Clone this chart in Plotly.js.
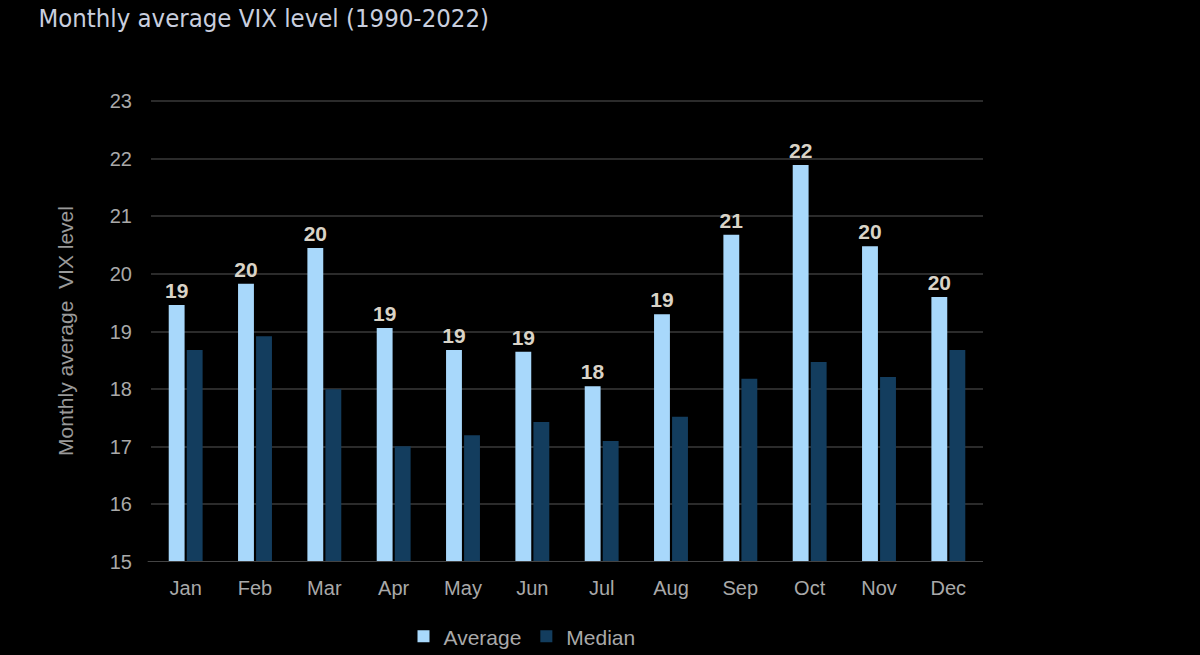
<!DOCTYPE html>
<html>
<head>
<meta charset="utf-8">
<script src="https://cdn.plot.ly/plotly-3.0.1.min.js"></script>
<style>
  html, body { margin: 0; padding: 0; background: #000; }
  #chart { width: 1200px; height: 655px; }
</style>
</head>
<body>
<div id="chart"></div>
<script>
const months = ["Jan", "Feb", "Mar", "Apr", "May", "Jun", "Jul", "Aug", "Sep", "Oct", "Nov", "Dec"];
const averageVix = [19.46, 19.83, 20.45, 19.06, 18.68, 18.65, 18.05, 19.3, 20.68, 21.89, 20.48, 19.6];
const medianVix = [18.68, 18.92, 18.0, 17.01, 17.2, 17.43, 17.1, 17.52, 18.18, 18.47, 18.21, 18.68];
const yTicks = [15, 16, 17, 18, 19, 20, 21, 22, 23];

const axisFont = { family: "Liberation Sans, Arial, sans-serif", size: 20, color: "#a9a9a9" };

const data = [
  {
    type: "bar",
    name: "Average",
    x: months,
    y: averageVix,
    marker: { color: "#a8d8fb" },
    text: averageVix.map((v) => Math.round(v).toString()),
    textposition: "outside",
    constraintext: "none",
    cliponaxis: false,
    textfont: { family: "Liberation Sans, Arial, sans-serif", size: 21, color: "#d9d3c7", weight: "bold" },
  },
  {
    type: "bar",
    name: "Median",
    x: months,
    y: medianVix,
    marker: { color: "#133d5e" },
  },
];

const layout = {
  width: 1200,
  height: 655,
  paper_bgcolor: "#000",
  plot_bgcolor: "#000",
  margin: { l: 151, r: 217, t: 100, b: 93, autoexpand: false },
  barmode: "group",
  bargap: 0.48,
  bargroupgap: 0.12,
  title: {
    text: "Monthly average VIX level (1990-2022)",
    x: 0.032,
    xanchor: "left",
    y: 0.972,
    yanchor: "middle",
    font: { family: "DejaVu Sans Condensed, Roboto, sans-serif", size: 25.5, color: "#c9cede" },
  },
  xaxis: {
    tickfont: axisFont,
    showgrid: false,
    showline: false,
    ticks: "outside",
    ticklen: 8,
    tickcolor: "#000",
    zeroline: false,
  },
  yaxis: {
    range: [15, 23.02],
    tickvals: yTicks,
    ticktext: yTicks.map(String),
    tickfont: axisFont,
    gridcolor: "#2b2b2b",
    gridwidth: 2,
    zeroline: false,
    showline: false,
    ticks: "outside",
    ticklen: 14,
    tickcolor: "#000",
    title: {
      text: "Monthly average  VIX level",
      font: { family: "Liberation Sans, Arial, sans-serif", size: 21, color: "#9a9a9a" },
      standoff: 30,
    },
  },
  legend: {
    orientation: "h",
    xref: "container",
    yref: "container",
    x: 0.435,
    xanchor: "center",
    y: 0.028,
    yanchor: "middle",
    font: { family: "Liberation Sans, Arial, sans-serif", size: 21, color: "#a9a9a9" },
    itemwidth: 30,
  },
  shapes: [
    {
      type: "line",
      xref: "paper",
      yref: "y",
      x0: -0.004,
      x1: 1.0,
      y0: 15,
      y1: 15,
      line: { color: "#444", width: 2 },
    },
  ],
  showlegend: true,
};

Plotly.newPlot("chart", data, layout, { displayModeBar: false, staticPlot: true });
</script>
</body>
</html>
